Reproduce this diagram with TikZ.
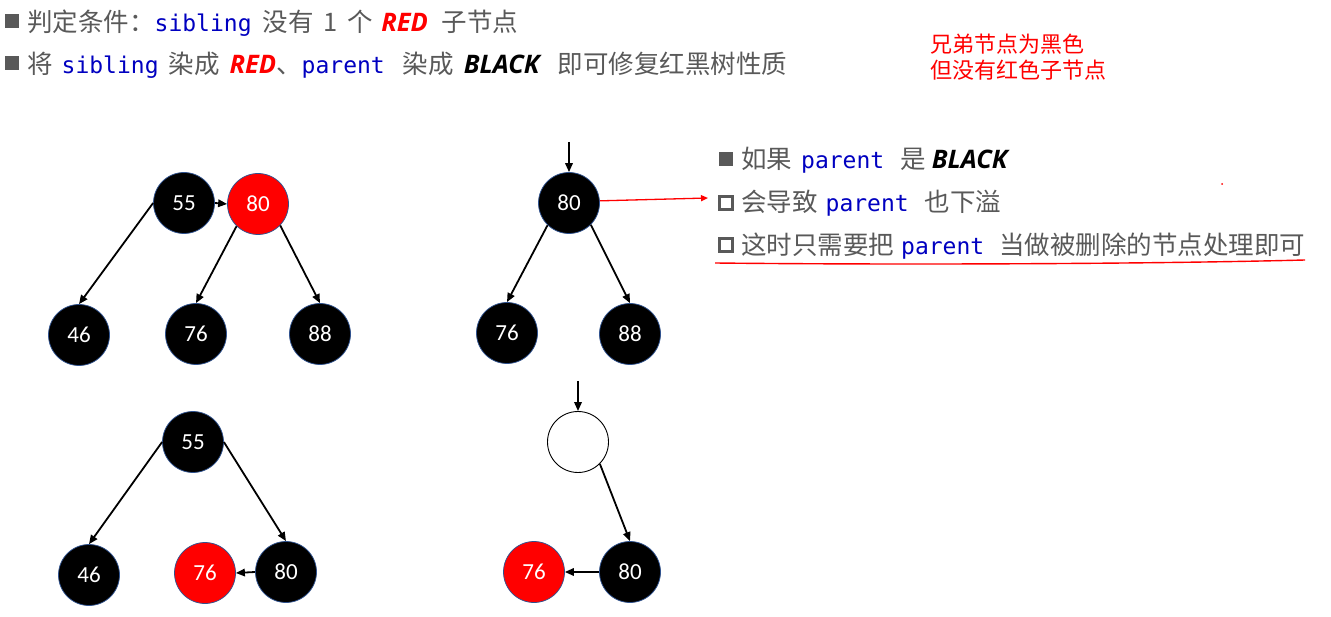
\documentclass[tikz,border=0pt]{standalone}
\usepackage{fontspec}
\usetikzlibrary{arrows.meta}
\setmainfont{Noto Sans CJK SC}
\newfontfamily\monof{DejaVu Sans Mono}
\newfontfamily\latinbi{Open Sans}
\newfontfamily\numf{Carlito}
\definecolor{txtgray}{HTML}{595959}
\definecolor{kwblue}{HTML}{0000C0}
\definecolor{nodeedge}{HTML}{2F528F}
\newcommand\kw[1]{{\monof\fontsize{23}{26}\selectfont\color{kwblue}#1}}
\newcommand\redw{{\latinbi\bfseries\itshape\color{red}RED}}
\newcommand\blackw{{\latinbi\bfseries\itshape\color{black}BLACK}}
\newcommand\gap[1]{\hspace{#1pt}}
\tikzset{
  bn/.style={circle, draw=nodeedge, line width=0.75pt, fill=black, text=white,
    minimum size=61pt, inner sep=0pt, font=\numf\fontsize{23}{23}\selectfont},
  rn/.style={bn, fill=red},
  wn/.style={circle, draw=black, line width=0.9pt, fill=white, minimum size=61pt, inner sep=0pt},
  edge/.style={-{Triangle[length=9pt,width=7.5pt]}, line width=1.8pt, black},
  redline/.style={-{Triangle[length=7pt,width=6pt]}, line width=1.3pt, red},
  txt/.style={anchor=base west, inner sep=0pt, text=txtgray, font=\fontsize{25.5}{28}\selectfont},
  note/.style={anchor=base west, inner sep=0pt, text=red, font=\fontsize{22}{24}\selectfont},
  fullsq/.style={rectangle, fill=txtgray, minimum size=14pt, inner sep=0pt},
  hollowsq/.style={rectangle, draw=txtgray, line width=3pt, minimum size=13pt, inner sep=0pt}
}
\begin{document}
\begin{tikzpicture}[x=1pt,y=-1pt]
\path[use as bounding box] (0,0) rectangle (1331,617);

% header
\node[fullsq] (b1) at (12,21) {};
\node[txt] (h1) at (27,32) {判定条件：\kw{sibling}\gap{11}没有\gap{10}1\gap{10}个\gap{8}\redw\gap{14}子节点};
\node[fullsq] (b2) at (12,63) {};
\node[txt] (h2) at (27,74) {将\gap{9}\kw{sibling}\gap{10}染成\gap{10}\redw、\kw{parent}\gap{18}染成\gap{10}\blackw\gap{18}即可修复红黑树性质};

% note
\node[note] (n1) at (930,53) {兄弟节点为黑色};
\node[note] (n2) at (930,79) {但没有红色子节点};

% right text
\node[fullsq] (rb1) at (726,159) {};
\node[txt] (r1) at (741,169) {如果\gap{9}\kw{parent}\gap{16}是\gap{6}\blackw};
\node[hollowsq] (rb2) at (726,203) {};
\node[txt] (r2) at (741,212) {会导致\gap{8}\kw{parent}\gap{16}也下溢};
\node[hollowsq] (rb3) at (726,245) {};
\node[txt] (r3) at (741,255) {这时只需要把\gap{7}\kw{parent}\gap{15}当做被删除的节点处理即可};
\coordinate (ul1) at (715,263);
\coordinate (ul2) at (1305,260);
\draw[red, line width=1.4pt] (ul1) .. controls (900,265) and (1150,264) .. (ul2);
\fill[red] (1222,184) circle (1pt);

% tree 1
\node[bn] (a55) at (184,203) {55};
\node[rn] (a80) at (258,204) {80};
\node[bn] (a46) at (79,335) {46};
\node[bn] (a76) at (196,334) {76};
\node[bn] (a88) at (320,334) {88};
\draw[edge] (a55.west) -- (a46.north);
\draw[edge] (a55.east) -- (a80.west);
\draw[edge] (a80.226) -- (a76.north);
\draw[edge] (a80.316) -- (a88.north);

% tree 2
\coordinate (t2) at (569,142);
\node[bn] (b80) at (569,203) {80};
\node[bn] (b76) at (507,333) {76};
\node[bn] (b88) at (630,334) {88};
\draw[edge] (t2) -- (b80.north);
\draw[edge] (b80.226) -- (b76.north);
\draw[edge] (b80.315) -- (b88.north);
\coordinate (ra) at (708,198);
\draw[redline] (b80.4) -- (ra);

% tree 3
\node[bn] (c55) at (193,442) {55};
\node[bn] (c46) at (89,575) {46};
\node[rn] (c76) at (205,573) {76};
\node[bn] (c80) at (286,572) {80};
\draw[edge] (c55.west) -- (c46.north);
\draw[edge] (c55.east) -- (c80.north);
\draw[edge] (c80.west) -- (c76.east);

% tree 4
\coordinate (t4) at (578,381);
\node[wn] (d0) at (578,442) {};
\node[bn] (d80) at (630,572) {80};
\node[rn] (d76) at (534,572) {76};
\draw[edge] (t4) -- (d0.north);
\draw[edge] (d0.315) -- (d80.north);
\draw[edge] (d80.west) -- (d76.east);
\end{tikzpicture}
\end{document}
